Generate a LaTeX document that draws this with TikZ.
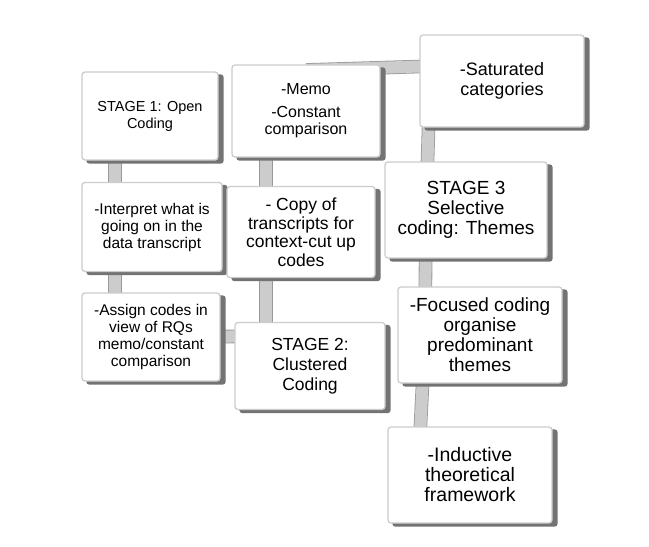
\documentclass[tikz,border=0pt]{standalone}
\usepackage{fontspec}
\setmainfont{Liberation Sans}
\usepackage{tikz}
\usetikzlibrary{backgrounds}

\tikzset{
  sign/.style={draw=gray!40,line width=1.3pt,fill=white,rounded corners=3pt,
    align=center,inner sep=2pt},
  fsz/.style 2 args={font=\fontsize{#1}{#2}\selectfont},
  signshadow/.style={fill=black!55,rounded corners=3pt},
  pole/.style={draw=gray!80,line width=0.8pt,double=gray!40,double distance=12pt}
}

\begin{document}
\begin{tikzpicture}[x=1pt,y=-1pt]
        \useasboundingbox (0,0) rectangle (649,547);
        \node[sign,fsz={14.5}{17},minimum width=136pt,minimum height=88pt](stageone) at (150,116)
            {STAGE 1: Open\\Coding};
        \node[sign,fsz={15.5}{17},minimum width=140pt,minimum height=89pt](interpret) at (152,227)
            {-Interpret what is\\going on in the\\data transcript};
        \node[sign,fsz={15.5}{17},minimum width=138pt,minimum height=88pt](assign) at (151,337)
            {-Assign codes in\\view of RQs\\memo/constant\\comparison};
        \node[sign,fsz={16}{17},minimum width=148pt,minimum height=92pt](memo) at (306,111)
            {-Memo\\[6pt]-Constant\\comparison};
        \node[sign,fsz={17.5}{18.5},minimum width=148pt,minimum height=91pt](copy) at (301,232)
            {- Copy of\\transcripts for\\context-cut up\\codes};
        \node[sign,fsz={17.5}{20},minimum width=150pt,minimum height=87pt](stagetwo) at (310,366)
            {STAGE 2:\\Clustered\\Coding};
        \node[sign,fsz={18}{20},minimum width=164pt,minimum height=92pt](saturated) at (502,81)
            {-Saturated\\categories};
        \node[sign,fsz={19}{20},minimum width=162pt,minimum height=96pt](stagethree) at (466,210)
            {STAGE 3\\Selective\\coding: Themes};
        \node[sign,fsz={19}{20},minimum width=164pt,minimum height=96pt](focused) at (480,335)
            {-Focused coding\\organise\\predominant\\themes};
        \node[sign,fsz={19.5}{20},minimum width=164pt,minimum height=96pt](inductive) at (470,475)
            {-Inductive\\theoretical\\framework};

        \begin{scope}[on background layer]
        \draw[pole] ([xshift=-35pt]stageone.center) -- ([xshift=-36pt]assign.center);
        \draw[pole] ([yshift=0pt]assign.center) -- ([yshift=30pt]stagetwo.center);
        \draw[pole] ([xshift=-40pt]memo.center) -- ([xshift=-44pt]stagetwo.center);
        \draw[pole] ([yshift=41pt]memo.center) -- ([yshift=17pt]saturated.center);
        \draw[pole] ([xshift=-72pt]saturated.center) -- ([xshift=-40pt]stagethree.center);
        \draw[pole] ([xshift=-40pt]stagethree.center) -- ([xshift=-55pt]focused.center);
        \draw[pole] ([xshift=-55pt]focused.center) -- ([xshift=-52pt]inductive.center);
        \foreach \n in {stageone,interpret,assign,memo,copy,stagetwo,saturated,stagethree,focused,inductive}
          \fill[signshadow] ([xshift=5pt,yshift=-3pt]\n.south west) rectangle ([xshift=5pt,yshift=-3pt]\n.north east);
        \end{scope}
\end{tikzpicture}
\end{document}
